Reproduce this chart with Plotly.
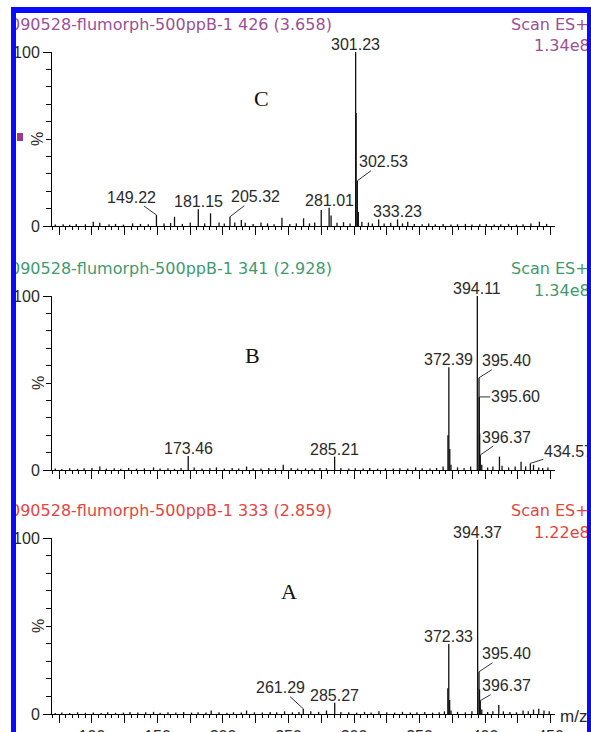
import plotly.graph_objects as go

# ---------------- data ----------------
C_MZ = [72, 78, 83, 88, 95, 101, 106, 113, 118, 124,
        131, 137, 143, 149.22, 155, 160, 163, 169, 175, 181.15,
        186, 190.5, 197, 201, 205.32, 209, 214, 217, 223, 229,
        234, 239, 245, 251, 256, 261.5, 266, 270, 275, 281.01,
        282.5, 287, 292, 297, 301.23, 301.6, 302.53, 303.3, 306, 311,
        314, 318.8, 323, 328, 333.23, 337, 341, 346, 352, 357,
        362, 368, 374, 379, 385, 390, 396, 401, 407, 412,
        418, 424, 429, 435, 441.5, 447]
C_INT = [0.8, 1.0, 0.7, 1.2, 1.0, 2.5, 1.8, 1.0, 1.2, 0.8,
         1.5, 1.2, 1.0, 6.3, 1.5, 1.8, 5.3, 1.2, 2.0, 9.6,
         1.5, 7.3, 2.0, 1.5, 5.3, 2.0, 3.4, 1.8, 1.2, 2.0,
         1.5, 1.0, 4.8, 1.2, 1.5, 4.4, 1.5, 2.0, 9.2, 10.5,
         6.0, 1.8, 2.2, 1.5, 100, 65, 26, 8, 2.5, 2.0,
         1.5, 3.8, 1.5, 1.8, 3.8, 1.5, 2.5, 1.2, 1.0, 1.5,
         1.0, 1.2, 0.8, 1.0, 1.2, 0.8, 1.0, 1.2, 0.8, 1.0,
         1.2, 0.8, 1.0, 1.5, 2.5, 1.2]

B_MZ = [72, 77, 83, 89, 94, 100, 106, 111, 117, 122,
        128, 134, 140, 147, 152, 158, 163, 168, 173.46, 178,
        184, 190, 195, 201, 207, 212, 218, 223, 229, 235,
        240, 246, 252, 257, 263, 268, 274, 279, 285.21, 290,
        296, 301, 307, 312, 318, 324, 330, 335, 341, 347,
        352, 358, 363, 368, 371.7, 372.39, 373.1, 374, 379, 384,
        389, 394.11, 395.40, 395.60, 395.9, 396.37, 397.5, 402, 406, 411,
        413, 418, 423, 427.5, 431, 434.57, 437, 441, 444, 448]
B_INT = [0.8, 0.6, 1.0, 0.7, 1.0, 1.2, 2.0, 0.8, 1.0, 0.7,
         1.2, 0.8, 1.0, 1.5, 0.8, 1.0, 0.7, 1.2, 8.0, 1.5,
         0.8, 1.0, 1.5, 0.8, 1.2, 0.8, 2.0, 1.0, 0.8, 1.2,
         1.0, 3.0, 1.2, 0.8, 1.0, 0.8, 1.2, 1.0, 7.7, 1.2,
         0.8, 1.0, 0.8, 1.2, 0.8, 1.0, 0.8, 1.0, 0.8, 1.5,
         1.0, 0.8, 1.2, 2.0, 20, 59, 12, 3.0, 1.5, 1.2,
         2.0, 100, 53, 42, 21, 8.6, 3.0, 1.5, 2.0, 7.7,
         2.5, 1.5, 2.0, 4.8, 2.0, 3.8, 3.0, 1.5, 1.2, 1.5]

A_MZ = [72, 77, 83, 89, 95, 101, 107, 112, 118, 124,
        129, 135, 141, 147, 152, 158, 164, 170, 176, 181,
        187, 191, 197, 203, 208, 214, 218, 224, 230, 236,
        241, 247, 253, 258, 261.29, 267, 273, 279, 285.27, 290,
        296, 302, 308, 313, 319, 325, 331, 337, 343, 348,
        354, 360, 365, 369, 371.6, 372.33, 373.0, 374, 379, 385,
        390, 394.37, 395.40, 395.8, 396.37, 397.5, 402, 406, 410.5, 414,
        419, 424, 429, 433, 437, 441, 445, 449]
A_INT = [0.6, 0.8, 0.6, 1.0, 0.7, 0.8, 0.6, 1.0, 0.7, 0.8,
         1.2, 0.8, 1.0, 1.2, 0.7, 1.0, 0.8, 1.2, 0.8, 1.0,
         0.8, 2.0, 1.0, 0.7, 1.0, 0.8, 2.0, 1.0, 0.8, 1.2,
         1.0, 1.5, 1.0, 1.2, 3.0, 1.5, 1.2, 2.0, 6.4, 1.2,
         1.0, 0.8, 1.2, 0.8, 1.5, 1.0, 0.8, 1.2, 0.8, 1.0,
         1.2, 0.8, 1.0, 1.5, 14.6, 39.8, 8, 2.0, 1.2, 1.0,
         1.5, 99, 24, 14, 7.6, 2.5, 1.2, 1.5, 5.1, 1.5,
         1.2, 1.0, 2.0, 1.5, 2.5, 3.0, 2.0, 1.5]

C_LABELS = [149.22, 181.15, 205.32, 281.01, 301.23, 302.53, 333.23]
B_LABELS = [173.46, 285.21, 372.39, 394.11, 395.40, 395.60, 396.37, 434.57]
A_LABELS = [261.29, 285.27, 372.33, 394.37, 395.40, 396.37]

TITLES = {
    "C": "090528-flumorph-500ppB-1 426 (3.658)",
    "B": "090528-flumorph-500ppB-1 341 (2.928)",
    "A": "090528-flumorph-500ppB-1 333 (2.859)",
}
SCAN_TEXT = "Scan ES+"
SCALES = {"C": "1.34e8", "B": "1.34e8", "A": "1.22e8"}
X_TICKS = [75, 100, 125, 150, 175, 200, 225, 250, 275, 300, 325, 350, 375, 400, 425, 450]
Y_TICKS = [0, 100]
X_UNIT = "m/z"
Y_UNIT = "%"

# ---------------- layout (pixels) ----------------
W, H = 591, 732
X_RANGE = [69.5, 453.4]
AX_LEFT, AX_RIGHT = 52, 555
PANEL_PX = {"C": (52, 226), "B": (296, 470), "A": (538, 714)}   # (top=100%, bottom=0)
LETTER_PX = {"C": (261, 98), "B": (252, 355), "A": (289, 591)}
TITLE_COLORS = {"C": "#9a4f98", "B": "#3f9a70", "A": "#e6453f"}
# leader-line offsets (px) of labels; labels not listed sit straight above their peak
LEADERS = {
    "C": {149.22: (-25, -18), 205.32: (26, -20), 302.53: (26, -19)},
    "B": {395.40: (27, -17), 395.60: (36, 0), 396.37: (26, -18), 434.57: (38, -12)},
    "A": {261.29: (-23, -21), 395.40: (27, -18), 396.37: (26, -15)},
}

SANS = "Liberation Sans"
TITLE_FONT = "DejaVu Sans"
TXT = "#2a2a2a"

def fx(px):
    return px / W

def fy(py):
    return 1 - py / H

data = {"C": (C_MZ, C_INT, C_LABELS), "B": (B_MZ, B_INT, B_LABELS), "A": (A_MZ, A_INT, A_LABELS)}

fig = go.Figure()
annotations = []
layout = {}

for i, key in enumerate(["C", "B", "A"]):
    mz, inten, labels = data[key]
    assert len(mz) == len(inten)
    n = "" if i == 0 else str(i + 1)
    xs, ys = [], []
    for m, v in zip(mz, inten):
        xs += [m, m, None]
        ys += [0, v, None]
    fig.add_trace(go.Scatter(x=xs, y=ys, mode="lines", xaxis="x" + n, yaxis="y" + n,
                             line=dict(color="#111111", width=1.3), hoverinfo="skip",
                             showlegend=False))
    top, bot = PANEL_PX[key]
    bottom_panel = key == "A"
    layout["xaxis" + n] = dict(
        domain=[fx(AX_LEFT), fx(AX_RIGHT)], range=X_RANGE, anchor="y" + n,
        automargin=False,
        showline=True, linecolor="black", linewidth=1, showgrid=False, zeroline=False,
        tickmode="array", tickvals=X_TICKS,
        ticktext=[(str(t) if (t % 50 == 0 and bottom_panel) else "") for t in X_TICKS],
        ticks="outside", ticklen=8, tickwidth=1, tickcolor="black",
        tickfont=dict(family=SANS, size=16, color=TXT),
        minor=dict(dtick=5, tick0=0, ticks="outside", ticklen=3, tickcolor="black", tickwidth=1),
        fixedrange=True,
    )
    layout["yaxis" + n] = dict(
        domain=[fy(bot), fy(top)], range=[0, 100], anchor="x" + n,
        automargin=False,
        showline=True, linecolor="black", linewidth=1, showgrid=False, zeroline=False,
        tickmode="array", tickvals=Y_TICKS, ticktext=[str(t) for t in Y_TICKS],
        ticks="outside", ticklen=8, tickwidth=1, tickcolor="black",
        tickfont=dict(family=SANS, size=16, color=TXT),
        minor=dict(dtick=10, tick0=0, ticks="outside", ticklen=5, tickcolor="black", tickwidth=1),
        fixedrange=True,
    )
    xr, yr = "x" + n, "y" + n
    # peak labels
    for lab in labels:
        v = inten[mz.index(lab)]
        txt = f"{lab:.2f}"
        if lab in LEADERS[key]:
            ax, ay = LEADERS[key][lab]
            annotations.append(dict(x=lab, y=v, xref=xr, yref=yr, text=txt, showarrow=True,
                                    ax=ax, ay=ay, arrowhead=0, arrowwidth=1, arrowcolor="#333",
                                    standoff=0, startstandoff=0, borderpad=0,
                                    font=dict(family=SANS, size=16, color=TXT)))
        else:
            annotations.append(dict(x=lab, y=v, xref=xr, yref=yr, text=txt, showarrow=False,
                                    xanchor="center", yanchor="bottom", yshift=-3,
                                    font=dict(family=SANS, size=16, color=TXT)))
    col = TITLE_COLORS[key]
    annotations.append(dict(x=fx(8), y=fy(top - 28), xref="paper", yref="paper",
                            text=TITLES[key], showarrow=False, xanchor="left", yanchor="middle",
                            font=dict(family=TITLE_FONT, size=16, color=col)))
    annotations.append(dict(x=fx(591), y=fy(top - 28), xref="paper", yref="paper",
                            text=SCAN_TEXT, showarrow=False, xanchor="right", yanchor="middle",
                            font=dict(family=TITLE_FONT, size=16, color=col)))
    annotations.append(dict(x=fx(592), y=fy(top - 6), xref="paper", yref="paper",
                            text=SCALES[key], showarrow=False, xanchor="right", yanchor="middle",
                            font=dict(family=TITLE_FONT, size=16, color=col)))
    # % label
    annotations.append(dict(x=fx(38), y=fy((top + bot) / 2), xref="paper", yref="paper",
                            text=Y_UNIT, showarrow=False, textangle=-90,
                            xanchor="center", yanchor="middle",
                            font=dict(family=SANS, size=16, color=TXT)))
    lx, ly = LETTER_PX[key]
    annotations.append(dict(x=fx(lx), y=fy(ly), xref="paper", yref="paper",
                            text=key, showarrow=False, xanchor="center", yanchor="middle",
                            font=dict(family="Liberation Serif", size=22, color="#111")))

# m/z unit
annotations.append(dict(x=fx(558), y=fy(716), xref="paper", yref="paper", text=X_UNIT,
                        showarrow=False, xanchor="left", yanchor="middle",
                        font=dict(family=SANS, size=17, color=TXT)))

# frame: white margin, blue border, small marker (drawn on top of texts)
def box(x0, y0, w, h, color):
    return dict(x=fx(x0), y=fy(y0), xref="paper", yref="paper", text=" ", showarrow=False,
                xanchor="left", yanchor="top", width=w, height=h, bgcolor=color,
                borderpad=0, borderwidth=0, font=dict(size=1))

BLUE = "#0a0aff"
annotations.append(box(0, 0, 11, H, "white"))
annotations.append(box(0, 0, W, 7, "white"))
annotations.append(box(11, 7, W - 11, 6, BLUE))
annotations.append(box(11, 7, 5, H - 7, BLUE))
annotations.append(box(587, 7, 4, H - 7, BLUE))
annotations.append(box(17, 133, 6, 8, "#9b3a8c"))

fig.update_layout(
    width=W, height=H, margin=dict(l=0, r=0, t=0, b=0, autoexpand=False),
    paper_bgcolor="white", plot_bgcolor="white", showlegend=False,
    annotations=annotations, **layout,
)

fig.write_html(
    "out.html",
    config={"displayModeBar": False, "responsive": False},
    post_script="document.body.style.margin='0';",
)
